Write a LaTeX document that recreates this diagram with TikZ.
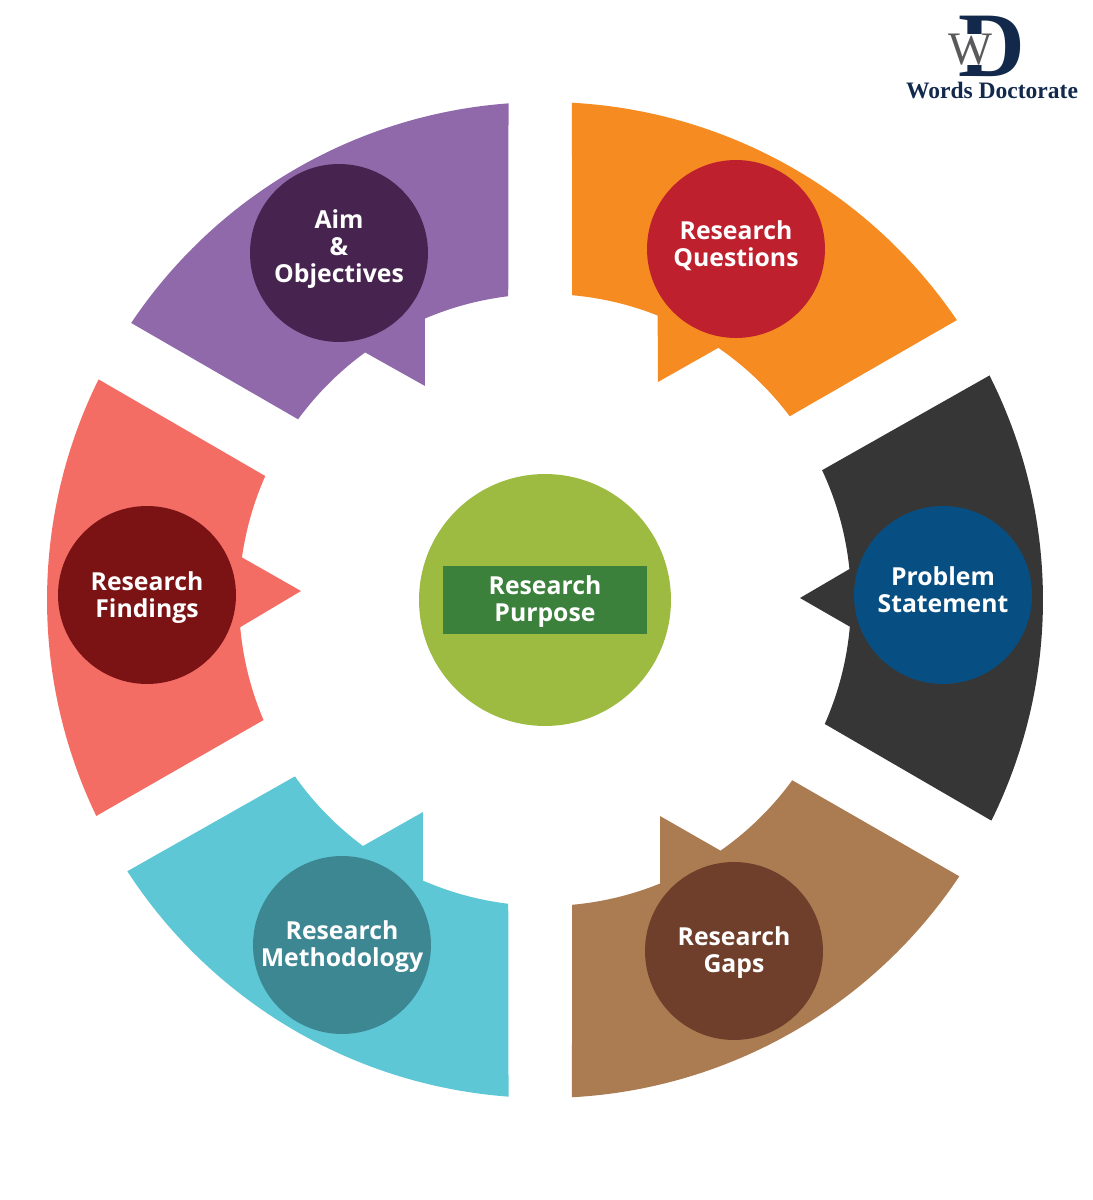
\documentclass[tikz,border=0pt]{standalone}
\usepackage{fontspec}
\setmainfont{Open Sans}
\newfontfamily\logofont{Liberation Serif}
\definecolor{purplebg}{HTML}{9069AB}
\definecolor{purpledk}{HTML}{46244F}
\definecolor{orangebg}{HTML}{F68B21}
\definecolor{orangedk}{HTML}{BE202E}
\definecolor{darkbg}{HTML}{363636}
\definecolor{darkdk}{HTML}{074F82}
\definecolor{brownbg}{HTML}{AB7B52}
\definecolor{browndk}{HTML}{6F3F2B}
\definecolor{tealbg}{HTML}{5DC7D6}
\definecolor{tealdk}{HTML}{3D8793}
\definecolor{redbg}{HTML}{F46D65}
\definecolor{reddk}{HTML}{7B1315}
\definecolor{greenbg}{HTML}{9DBB41}
\definecolor{greendk}{HTML}{3B803B}
\definecolor{logonavy}{HTML}{12294B}
\definecolor{logogray}{HTML}{5A5A5C}
\tikzset{
	stage/.style = {circle, minimum size = 3.56cm, inner sep = 0pt},
	stagetext/.style = {inner sep = 0pt, align = center, text = white,
		font = \fontsize{14.1}{15.4}\selectfont\bfseries},
	logoletter/.style = {inner sep = 0pt}
}
\begin{document}
\begin{tikzpicture}[x = 0.02cm, y = 0.02cm]
		\useasboundingbox (-545,-600) rectangle (547,600);
		% six sectors, outer arc first, then the notch on the inner arc
		\fill[purplebg] (94.2:498) arc[start angle=94.2, end angle=146.2, radius=498] -- (143.8:306)
			arc[start angle=143.8, end angle=126, radius=306] -- (-120,214) -- (113.1:306)
			arc[start angle=113.1, end angle=96.9, radius=306] -- cycle;
		\fill[orangebg] (86.9:498) arc[start angle=86.9, end angle=34.2, radius=498] -- (36.9:306)
			arc[start angle=36.9, end angle=55.5, radius=306] -- (113,218) -- (68.4:306)
			arc[start angle=68.4, end angle=84.9, radius=306] -- cycle;
		\fill[darkbg] (26.8:498) arc[start angle=26.8, end angle=-26.3, radius=498] -- (-23.9:306)
			arc[start angle=-23.9, end angle=-5, radius=306] -- (255,2) -- (5.8:306)
			arc[start angle=5.8, end angle=25.1, radius=306] -- cycle;
		\fill[brownbg] (-86.9:498) arc[start angle=-86.9, end angle=-33.7, radius=498] -- (-36.1:306)
			arc[start angle=-36.1, end angle=-55, radius=306] -- (115,-216) -- (-67.9:306)
			arc[start angle=-67.9, end angle=-84.9, radius=306] -- cycle;
		\fill[tealbg] (265.8:498) arc[start angle=265.8, end angle=213, radius=498] -- (215.2:306)
			arc[start angle=215.2, end angle=233.5, radius=306] -- (-122,-212) -- (246.5:306)
			arc[start angle=246.5, end angle=263.1, radius=306] -- cycle;
		\fill[redbg] (153.7:498) arc[start angle=153.7, end angle=205.7, radius=498] -- (203.1:306)
			arc[start angle=203.1, end angle=185.1, radius=306] -- (-244,9) -- (172:306)
			arc[start angle=172, end angle=156.1, radius=306] -- cycle;
		% circles
		\node[stage, fill=purpledk] (aim) at (-206,347) {};
		\node[stage, fill=orangedk] (questions) at (191,351) {};
		\node[stage, fill=darkdk] (problem) at (398,5) {};
		\node[stage, fill=browndk] (gaps) at (189,-351) {};
		\node[stage, fill=tealdk] (methodology) at (-203,-345) {};
		\node[stage, fill=reddk] (findings) at (-398,5) {};
		\node[stagetext, yshift=.08cm] (aimtext) at (aim) {Aim\\\&\\Objectives};
		\node[stagetext, yshift=.06cm] (questionstext) at (questions) {Research\\Questions};
		\node[stagetext, yshift=.1cm] (problemtext) at (problem) {Problem\\Statement};
		\node[stagetext, yshift=-.04cm] (gapstext) at (gaps) {Research\\Gaps};
		\node[stagetext, yshift=-.04cm] (methodologytext) at (methodology) {Research\\Methodology};
		\node[stagetext, yshift=-.06cm] (findingstext) at (findings) {Research\\Findings};
		% centre
		\node[circle, minimum size = 5.04cm, fill=greenbg] (centre) at (0,0) {};
		\node[rectangle, minimum width = 4.08cm, minimum height = 1.38cm, fill=greendk] (purposebox) at (0,0) {};
		\node[stagetext, yshift=-.04cm] (purpose) at (purposebox) {Research\\Purpose};
		% logo
		\node[logoletter, text=logonavy, font=\logofont\bfseries\fontsize{52.5}{52.5}\selectfont] (logoD) at (447,553.5) {D};
		\node[logoletter, fill=white, text=logogray, font=\logofont\fontsize{26.5}{26.5}\selectfont] (logoW) at (425.5,550.5) {W};
		\node[inner sep = 0pt, text=logonavy, font=\logofont\bfseries\fontsize{13.4}{15}\selectfont] (logotext) at (447,509) {Words Doctorate};
	\end{tikzpicture}
\end{document}
